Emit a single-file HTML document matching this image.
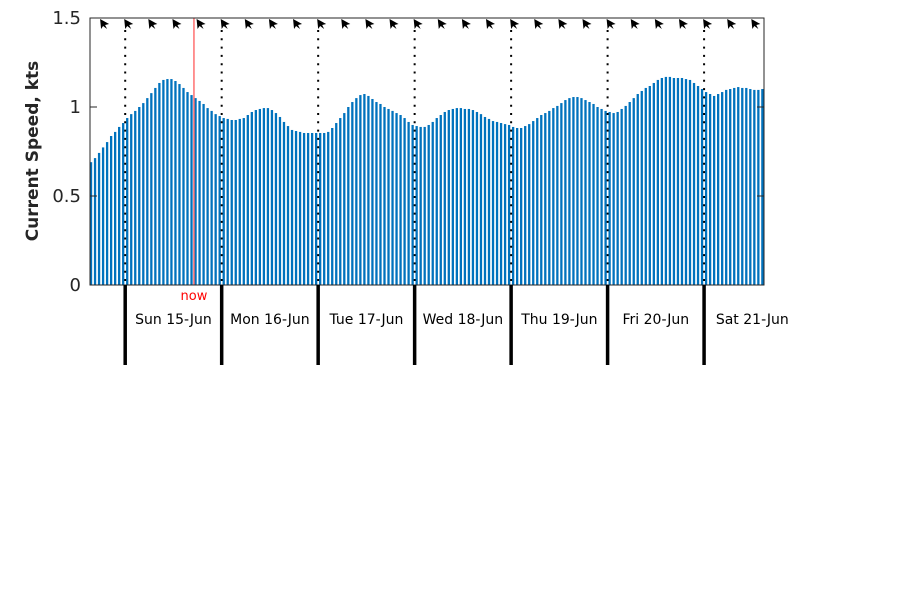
<!DOCTYPE html>
<html><head><meta charset="utf-8"><style>
body{margin:0;background:#fff;}
svg{display:block;font-family:"DejaVu Sans","Liberation Sans",sans-serif;}
</style></head><body>
<svg id="chart" width="900" height="600" viewBox="0 0 900 600" xmlns="http://www.w3.org/2000/svg">
<g id="bars"></g>
<g id="grid"></g>
<g id="arrows"></g>
<rect x="90" y="18" width="674" height="267" fill="none" stroke="#262626" stroke-width="1"/>
<g id="yaxis"></g>
<text x="0" y="0" transform="translate(38,151) rotate(-90)" text-anchor="middle" font-size="17" font-weight="bold" fill="#262626">Current Speed, kts</text>
<g id="days"></g>
</svg>
<script>
const speeds=[0.69,0.713,0.742,0.773,0.803,0.837,0.86,0.888,0.91,0.938,0.96,0.978,1.0,1.022,1.05,1.078,1.107,1.135,1.152,1.157,1.157,1.146,1.129,1.107,1.084,1.067,1.05,1.034,1.017,0.994,0.978,0.96,0.949,0.938,0.933,0.927,0.927,0.933,0.938,0.955,0.972,0.983,
0.989,0.994,0.994,0.983,0.966,0.944,0.916,0.893,0.871,0.865,0.86,0.854,0.854,0.854,0.854,0.854,0.854,0.86,0.882,0.91,0.938,0.966,1.0,1.028,1.05,1.067,1.073,1.062,1.045,1.028,1.017,1.0,0.989,0.978,0.966,0.955,0.938,0.916,0.899,0.893,0.888,0.888,
0.899,0.916,0.938,0.955,0.972,0.983,0.989,0.994,0.994,0.989,0.989,0.983,0.972,0.96,0.944,0.933,0.921,0.916,0.91,0.904,0.899,0.888,0.882,0.882,0.893,0.904,0.921,0.938,0.955,0.966,0.978,0.994,1.006,1.022,1.039,1.05,1.056,1.056,1.05,1.039,1.028,
1.017,1.0,0.989,0.978,0.972,0.966,0.972,0.989,1.006,1.028,1.05,1.073,1.09,1.107,1.118,1.135,1.152,1.163,1.169,1.169,1.163,1.163,1.163,1.157,1.152,1.135,1.118,1.101,1.084,1.073,1.062,1.073,1.084,1.096,1.101,1.107,1.112,1.107,1.107,1.101,1.096,1.096,1.101];
const startHour=-8.5; // hours relative to Sun 15-Jun 00:00 for first bar
const dayLabels=["Sun 15-Jun","Mon 16-Jun","Tue 17-Jun","Wed 18-Jun","Thu 19-Jun","Fri 20-Jun","Sat 21-Jun"];
const yTicks=[0,0.5,1,1.5];
const yTickLabels=["0","0.5","1","1.5"];
const nowHour=17.1;
const arrowHours=[-6,0,6,12,18,24,30,36,42,48,54,60,66,72,78,84,90,96,102,108,114,120,126,132,138,144,150,156];

const NS="http://www.w3.org/2000/svg";
const X0=125.2, PXH=4.02, Y0=285, PXU=178;
const xs=h=>X0+h*PXH;
const ys=v=>Y0-v*PXU;
function mk(tag,attrs,parent){const e=document.createElementNS(NS,tag);for(const k in attrs)e.setAttribute(k,attrs[k]);parent.appendChild(e);return e;}

const gb=document.getElementById('bars');
speeds.forEach((v,i)=>{
  const cx=xs(startHour+i);
  const r=mk('rect',{x:(cx-1.15).toFixed(2),y:ys(v).toFixed(2),width:2.3,height:(Y0-ys(v)).toFixed(2),fill:'#0072BD'},gb);
  
  
});

const gg=document.getElementById('grid');
dayLabels.forEach((d,k)=>{
  const x=xs(k*24);
  const l=mk('line',{x1:x,y1:30,x2:x,y2:285,stroke:'#000','stroke-width':2,'stroke-dasharray':'2 6.3'},gg);
  
  
});
const nl=mk('line',{x1:xs(nowHour),y1:18,x2:xs(nowHour),y2:285,stroke:'#FF7070','stroke-width':1.5},gg);


const nt=mk('text',{x:xs(nowHour),y:300,'text-anchor':'middle','font-size':13,fill:'#FF0000'},gg);
nt.textContent='now';



const ga=document.getElementById('arrows');
arrowHours.forEach(h=>{
  const x=xs(h)-1, y=19;
  const p=mk('polygon',{points:`${x},${y} ${x+9},${y+5} ${x+5},${y+6} ${x+7},${y+10} ${x+3},${y+7} ${x+1},${y+10}`,fill:'#000'},ga);
  
  
});

const gy=document.getElementById('yaxis');
yTicks.forEach((v,k)=>{
  const y=ys(v);
  const t1=mk('line',{x1:90,y1:y,x2:97,y2:y,stroke:'#262626'},gy);
  
  
  const t2=mk('line',{x1:757,y1:y,x2:764,y2:y,stroke:'#262626'},gy);
  
  
  const tx=mk('text',{x:81,y:y+6,'text-anchor':'end','font-size':18,fill:'#262626'},gy);
  tx.textContent=yTickLabels[k];
  
  
});

const gd=document.getElementById('days');
dayLabels.forEach((d,k)=>{
  const x=xs(k*24);
  const l=mk('line',{x1:x,y1:285,x2:x,y2:365,stroke:'#000','stroke-width':3.5},gd);
  
  
  const t=mk('text',{x:xs(k*24+12),y:324,'text-anchor':'middle','font-size':14,fill:'#000'},gd);
  t.textContent=d;
  
  
});
</script>
</body></html>
